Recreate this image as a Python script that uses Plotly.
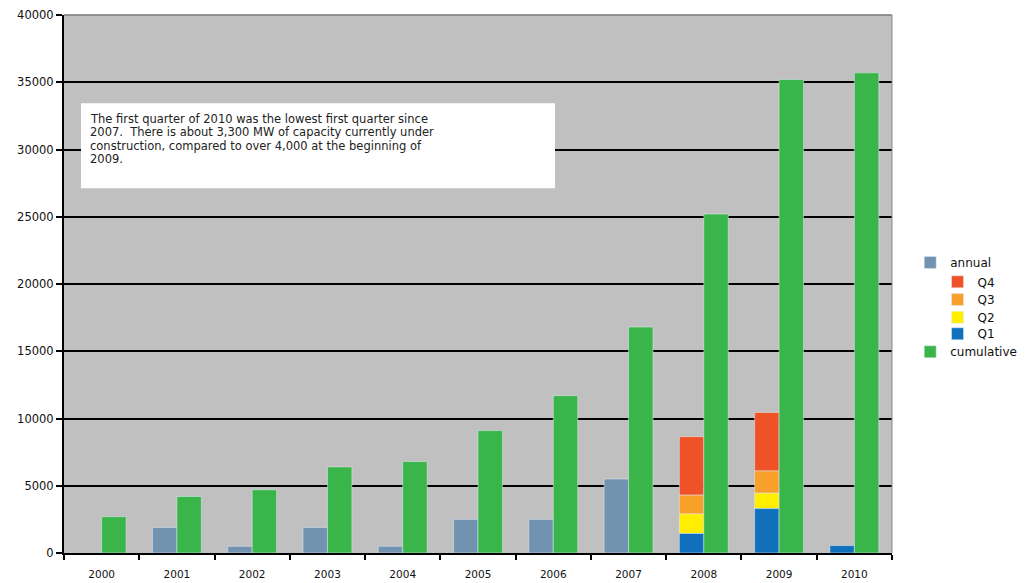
import plotly.graph_objects as go

years = ["2000", "2001", "2002", "2003", "2004", "2005", "2006", "2007", "2008", "2009", "2010"]
annual = [None, 1900, 500, 1900, 500, 2500, 2500, 5500, None, None, None]
q1 = [None, None, None, None, None, None, None, None, 1450, 3300, 550]
q2 = [None, None, None, None, None, None, None, None, 1450, 1150, None]
q3 = [None, None, None, None, None, None, None, None, 1400, 1650, None]
q4 = [None, None, None, None, None, None, None, None, 4350, 4350, None]
cumulative = [2700, 4200, 4700, 6400, 6800, 9100, 11700, 16800, 25200, 35200, 35700]
y_ticks = [0, 5000, 10000, 15000, 20000, 25000, 30000, 35000, 40000]

note_lines = [
    "The first quarter of 2010 was the lowest first quarter since",
    "2007.  There is about 3,300 MW of capacity currently under",
    "construction, compared to over 4,000 at the beginning of",
    "2009.",
]

def z(v):
    return 0 if v is None else v

base_q2 = [z(a) for a in q1]
base_q3 = [z(a) + z(b) for a, b in zip(q1, q2)]
base_q4 = [z(a) + z(b) + z(c) for a, b, c in zip(q1, q2, q3)]

fig = go.Figure()
fig.add_trace(go.Bar(x=years, y=annual, name="annual", marker_color="#7193b0",
                     offsetgroup="a", legend="legend", showlegend=True))
fig.add_trace(go.Bar(x=years, y=q4, base=base_q4, name="Q4", marker_color="#f05228",
                     offsetgroup="a", legend="legend2", showlegend=True))
fig.add_trace(go.Bar(x=years, y=q3, base=base_q3, name="Q3", marker_color="#f9a02a",
                     offsetgroup="a", legend="legend3", showlegend=True))
fig.add_trace(go.Bar(x=years, y=q2, base=base_q2, name="Q2", marker_color="#ffee00",
                     offsetgroup="a", legend="legend4", showlegend=True))
fig.add_trace(go.Bar(x=years, y=q1, name="Q1", marker_color="#1170bb",
                     offsetgroup="a", legend="legend5", showlegend=True))
fig.add_trace(go.Bar(x=years, y=cumulative, name="cumulative", marker_color="#3ab54a",
                     offsetgroup="b", legend="legend6", showlegend=True))

xfont = dict(family="DejaVu Sans, sans-serif", size=10.5, color="#111111")
yfont = dict(family="DejaVu Sans, sans-serif", size=11.5, color="#111111")
legfont = dict(family="DejaVu Sans, sans-serif", size=12, color="#111111")

def leg(x, y):
    return dict(x=x, y=y, xanchor="left", yanchor="top", font=legfont,
                bgcolor="rgba(0,0,0,0)", itemwidth=30, tracegroupgap=0)

annotations = []
line_y = [0.8067, 0.7816, 0.7565, 0.7323]
for t, yy in zip(note_lines, line_y):
    annotations.append(dict(text=t, xref="paper", yref="paper", x=0.029, y=yy,
                            xanchor="left", yanchor="middle", align="left", showarrow=False,
                            font=dict(family="DejaVu Sans, sans-serif", size=11.5,
                                      color="#222222")))

fig.update_layout(
    width=1034, height=583,
    margin=dict(l=64, r=142, t=15, b=30),
    paper_bgcolor="#ffffff",
    plot_bgcolor="#c0c0c0",
    barmode="group",
    bargap=0.35,
    bargroupgap=0,
    showlegend=True,
    font=xfont,
    xaxis=dict(type="category", tickson="boundaries", ticks="outside", ticklen=5,
               tickwidth=1.5, tickcolor="#000", showline=True, linecolor="#000",
               linewidth=2, showgrid=False, tickfont=xfont, ticklabelstandoff=10,
               automargin=False, fixedrange=True),
    yaxis=dict(range=[0, 40000], tickvals=y_ticks, ticktext=[str(v) for v in y_ticks],
               ticks="outside", ticklen=6, tickwidth=1.5, tickcolor="#000",
               showline=True, linecolor="#000", linewidth=2,
               showgrid=True, gridcolor="#000", gridwidth=1.5,
               zeroline=False, tickfont=yfont, automargin=False, fixedrange=True),
    legend=leg(1.022, 0.567),
    legend2=leg(1.055, 0.531),
    legend3=leg(1.055, 0.498),
    legend4=leg(1.055, 0.465),
    legend5=leg(1.055, 0.4345),
    legend6=leg(1.022, 0.401),
    shapes=[
        dict(type="rect", xref="paper", yref="paper", x0=0.0205, x1=0.593,
             y0=0.678, y1=0.836, fillcolor="#ffffff", line=dict(width=0), layer="above"),
        dict(type="line", xref="paper", yref="paper", x0=1, x1=1, y0=0, y1=1,
             line=dict(color="#888888", width=1)),
        dict(type="line", xref="paper", yref="paper", x0=0, x1=1, y0=1, y1=1,
             line=dict(color="#7a7a7a", width=1.5), layer="above"),
    ],
    annotations=annotations,
)

fig.write_html("out.html")
